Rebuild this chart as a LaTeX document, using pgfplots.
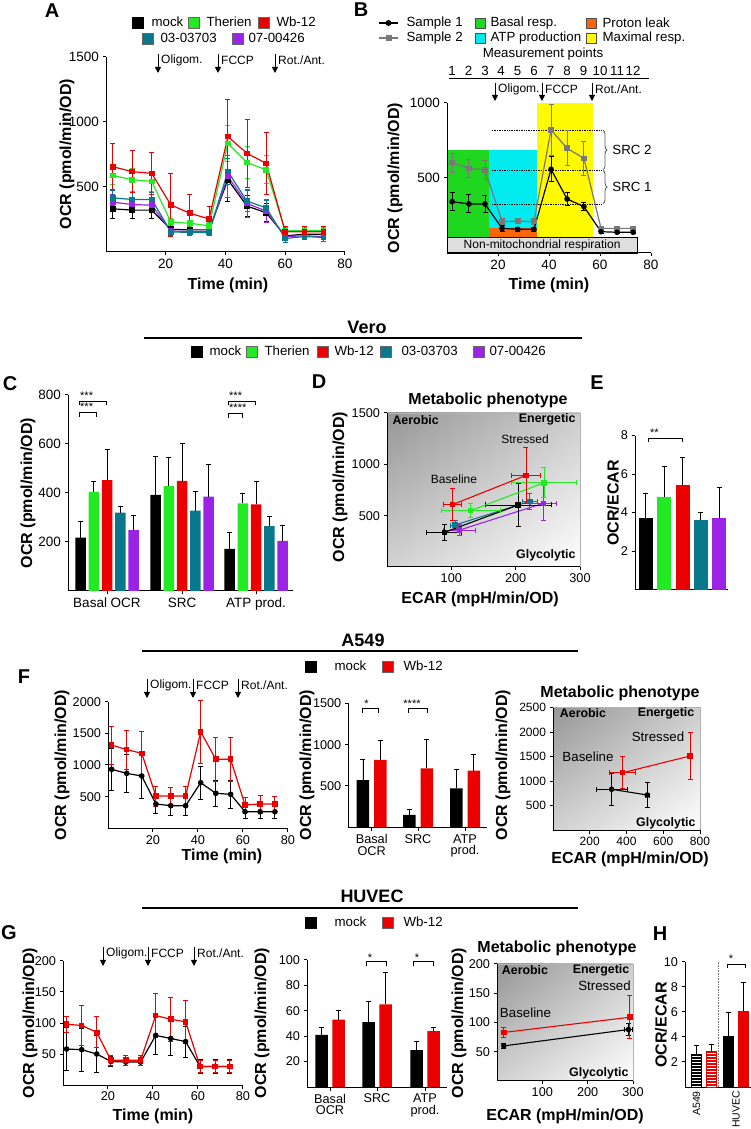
\documentclass[border=0pt]{standalone}
\usepackage{fontspec}
\setmainfont{Liberation Sans}
\usepackage{pgfplots}
\pgfplotsset{compat=1.18}
\usepackage{pgfplotstable}
\usetikzlibrary{arrows.meta,shadings,decorations.pathreplacing,patterns}

\definecolor{cmock}{RGB}{0,0,0}
\definecolor{cther}{RGB}{35,235,35}
\definecolor{cwb}{RGB}{235,0,0}
\definecolor{cteal}{RGB}{10,120,140}
\definecolor{cpur}{RGB}{155,35,230}
\definecolor{cbasal}{RGB}{30,215,30}
\definecolor{catp}{RGB}{0,235,240}
\definecolor{cleak}{RGB}{250,100,10}
\definecolor{cmax}{RGB}{255,250,0}
\definecolor{cstwo}{RGB}{120,120,120}
\definecolor{cnm}{RGB}{222,222,222}
\definecolor{shUL}{RGB}{150,150,150}
\definecolor{shUR}{RGB}{205,205,205}
\definecolor{shLL}{RGB}{210,210,210}
\definecolor{shLR}{RGB}{255,255,255}

\newcommand{\tla}{\fontsize{13.5}{15}\selectfont}
\newcommand{\tlb}{\fontsize{12.7}{14}\selectfont}
\newcommand{\tlc}{\fontsize{12.7}{11.5}\selectfont}
\newcommand{\tld}{\fontsize{12}{13}\selectfont}
\newcommand{\lab}{\bfseries\fontsize{16}{18}\selectfont}
\newcommand{\leg}{\fontsize{13.3}{15}\selectfont}
\newcommand{\ann}{\fontsize{12}{14}\selectfont}
\newcommand{\pl}{\bfseries\fontsize{20}{22}\selectfont}
\newcommand{\ttl}{\bfseries\fontsize{16}{18}\selectfont}
\newcommand{\hdr}{\bfseries\fontsize{18}{20}\selectfont}
\newcommand{\phb}{\bfseries\fontsize{12.4}{14}\selectfont}
\newcommand{\st}{\fontsize{11}{12}\selectfont}

\pgfplotsset{
 gp/.style={scale only axis, anchor=south west,
   axis x line*=bottom, axis y line*=left,
   axis line style={line width=1pt},
   tick align=outside, major tick length=3.5pt,
   tick style={black, line width=1pt},
   tick label style={font=\tlb},
   /pgf/number format/assume math mode=true,
   /pgf/number format/1000 sep={},
   clip=false},
 tc/.style={line width=1.2pt, mark size=2.2pt, mark options={solid},
   error bars/y dir=both, error bars/y explicit,
   error bars/error bar style={line width=0.9pt},
   error bars/error mark options={rotate=90, mark size=2.5pt, line width=0.9pt}},
 ph/.style={line width=1.1pt, mark=square*, mark size=2.2pt, mark options={solid},
   error bars/x dir=both, error bars/x explicit,
   error bars/y dir=both, error bars/y explicit,
   error bars/error bar style={line width=0.8pt},
   error bars/error mark options={rotate=90, mark size=2.5pt, line width=0.8pt}},
 be/.style={error bars/y dir=plus, error bars/y explicit,
   error bars/error bar style={black, line width=0.9pt},
   error bars/error mark options={rotate=90, black, mark size=2.5pt, line width=0.9pt}},
}

\pgfplotstableread{
t mock emock ther ether wb ewb teal eteal pur epur
2.3 332 72 589 68 656 176 416 60 383 60
8.8 322 65 556 90 618 162 404 55 365 55
15.3 322 65 543 75 605 163 404 55 360 55
21.7 175 25 231 25 362 240 155 25 162 25
28.1 170 25 221 25 298 146 150 25 157 25
34.5 170 25 201 25 254 100 150 25 157 25
40.8 556 165 835 140 887 290 619 100 581 160
47.2 353 80 688 120 759 263 391 80 373 110
53.6 302 70 632 107 682 239 340 60 315 90
60.0 124 30 162 25 156 40 104 30 119 25
66.4 137 25 165 25 156 40 119 25 124 25
72.8 137 25 165 25 156 40 112 30 119 25
}\tabA

\pgfplotstableread{
t s1 e1 s2 e2
2.0 342 60 602 62
8.6 327 60 564 60
14.9 327 55 553 62
21.6 164 20 209 20
27.8 158 15 213 18
34.1 158 15 209 18
40.8 558 84 820 167
47.1 360 42 698 117
53.7 309 25 631 111
60.4 142 12 164 15
66.7 138 10 164 15
73.0 138 10 164 15
}\tabB

\pgfplotstableread{
t mock em wb ew
1.6 932 330 1315 300
8.3 868 300 1243 310
15.0 826 350 1184 340
21.3 384 150 510 158
27.9 357 150 510 137
34.5 357 150 510 147
41.2 720 260 1525 500
47.9 553 210 1090 347
54.5 537 225 1090 347
60.9 262 100 368 120
67.6 262 100 384 142
74.2 262 100 384 126
}\tabF

\pgfplotstableread{
t mock em wb ew
1.6 58 35 98 13
8.3 57 35 96 33
15.0 50 30 85 25
21.3 38 8 40 8
27.9 37 6 40 8
34.5 37 6 40 8
41.2 80 30 112 36
47.9 75 28 106 35
54.5 70 25 102 35
60.9 30 12 30 10
67.6 30 12 30 10
74.2 30 12 30 10
}\tabG

\newcommand{\inj}[4]{% x, ytop, ybot, text
  \draw[line width=0.9pt, -{Triangle[width=6pt,length=6pt]}] (#1,#2) -- (#1,#3);
  \node[font=\ann, anchor=west, inner sep=1pt] at (#1+2,#2-6) {#4};}

\begin{document}
\begin{tikzpicture}[x=1pt,y=1pt]
\useasboundingbox (0,0) rectangle (750,1129);
\fill[white] (0,0) rectangle (750,1129);

% ================= A =================
\begin{axis}[gp, at={(106pt,877pt)}, width=239pt, height=195pt,
  xmin=0, xmax=80, ymin=0, ymax=1500, xtick={20,40,60,80}, ytick={500,1000,1500},
  tick label style={font=\tla}]
\addplot[tc, cmock, mark=square*] table[x=t,y=mock,y error=emock]{\tabA};
\addplot[tc, cpur, mark=square*] table[x=t,y=pur,y error=epur]{\tabA};
\addplot[tc, cteal, mark=square*] table[x=t,y=teal,y error=eteal]{\tabA};
\addplot[tc, cther, mark=square*] table[x=t,y=ther,y error=ether]{\tabA};
\addplot[tc, cwb, mark=square*] table[x=t,y=wb,y error=ewb]{\tabA};
\end{axis}
\node[font=\pl] at (52,1118) {A};
\node[font=\lab, rotate=90] at (67,975) {OCR (pmol/min/OD)};
\node[font=\lab] at (228,844) {Time (min)};
\filldraw[fill=cmock, draw=black] (132,1101) rectangle (143,1112); \node[font=\leg, anchor=west] at (148,1107) {mock};
\filldraw[fill=cther, draw=black!60] (188,1101) rectangle (199,1112); \node[font=\leg, anchor=west] at (203,1107) {Therien};
\filldraw[fill=cwb, draw=black!60] (258,1101) rectangle (269,1112); \node[font=\leg, anchor=west] at (273,1107) {Wb-12};
\filldraw[fill=cteal, draw=black!60] (142,1085) rectangle (153,1096); \node[font=\leg, anchor=west] at (157,1091) {03-03703};
\filldraw[fill=cpur, draw=black!60] (232,1085) rectangle (243,1096); \node[font=\leg, anchor=west] at (245,1091) {07-00426};
\inj{158}{1075}{1056}{Oligom.}
\inj{218}{1075}{1056}{FCCP}
\inj{275}{1075}{1056}{Rot./Ant.}

% ================= B =================
\begin{axis}[gp, axis on top, at={(447pt,876pt)}, width=204pt, height=150pt,
  xmin=0, xmax=80, ymin=0, ymax=1000, xtick={20,40,60,80}, ytick={500,1000},
  tick label style={font=\tla}]
\fill[cbasal] (axis cs:0,107) rectangle (axis cs:16.5,687);
\fill[catp] (axis cs:16.5,165) rectangle (axis cs:35.3,687);
\fill[cleak] (axis cs:16.5,107) rectangle (axis cs:35.3,165);
\fill[cmax] (axis cs:35.3,107) rectangle (axis cs:57.3,1000);
\filldraw[fill=cnm, draw=black, line width=0.6pt] (axis cs:0,0) rectangle (axis cs:74.5,107);
\node[font=\ann] at (axis cs:37.3,52) {Non-mitochondrial respiration};
\draw[densely dotted, line width=0.7pt] (axis cs:17.6,820) -- (axis cs:60.8,820);
\draw[densely dotted, line width=0.7pt] (axis cs:17.6,553) -- (axis cs:60.8,553);
\draw[densely dotted, line width=0.7pt] (axis cs:17.6,327) -- (axis cs:60.8,327);
\draw[decorate, decoration={brace, amplitude=4pt}, gray!70!black, line width=0.8pt] (axis cs:61.2,818) -- (axis cs:61.2,556);
\draw[decorate, decoration={brace, amplitude=4pt}, gray!70!black, line width=0.8pt] (axis cs:61.2,550) -- (axis cs:61.2,330);
\node[font=\leg, anchor=west] at (axis cs:63.5,685) {SRC 2};
\node[font=\leg, anchor=west] at (axis cs:63.5,440) {SRC 1};
\addplot[tc, cstwo, mark=square*] table[x=t,y=s2,y error=e2]{\tabB};
\addplot[tc, black, mark=*] table[x=t,y=s1,y error=e1]{\tabB};
\end{axis}
\node[font=\pl] at (361,1119) {B};
\node[font=\lab, rotate=90] at (395,951) {OCR (pmol/min/OD)};
\node[font=\lab] at (549,844) {Time (min)};
\draw[line width=1.1pt] (379,1106) -- (398,1106); \fill (388.5,1106) circle (3pt);
\node[font=\leg, anchor=west] at (403,1106) {Sample 1};
\draw[line width=1.1pt, cstwo] (379,1091) -- (398,1091); \fill[cstwo] (385.5,1088) rectangle (391.5,1094);
\node[font=\leg, anchor=west] at (403,1091) {Sample 2};
\filldraw[fill=cbasal, draw=black!70] (475,1101) rectangle (485,1111); \node[font=\leg, anchor=west] at (487,1106) {Basal resp.};
\filldraw[fill=catp, draw=black!70] (475,1086) rectangle (485,1096); \node[font=\leg, anchor=west] at (487,1091) {ATP production};
\filldraw[fill=cleak, draw=black!70] (586,1101) rectangle (596,1111); \node[font=\leg, anchor=west] at (599,1106) {Proton leak};
\filldraw[fill=cmax, draw=black!70] (586,1086) rectangle (596,1096); \node[font=\leg, anchor=west] at (599,1091) {Maximal resp.};
\node[font=\leg] at (543,1075) {Measurement points};
\foreach \xx/\nn in {452/1,468.5/2,485/3,501/4,517.5/5,534/6,550.5/7,567/8,583.5/9,600/10,617/11,633/12}{
  \node[font=\leg, inner sep=0pt] at (\xx,1058) {\nn};
}
\draw[line width=1pt] (449,1050) -- (649,1050);
\inj{495}{1046}{1028}{Oligom.}
\inj{542}{1046}{1028}{FCCP}
\inj{592}{1046}{1028}{Rot./Ant.}

% ================= Vero header =================
\node[font=\hdr] at (367,802) {Vero};
\draw[line width=1.4pt] (144,791) -- (582,791);
\filldraw[fill=cmock, draw=black] (191,772) rectangle (202,783); \node[font=\leg, anchor=west] at (206,778) {mock};
\filldraw[fill=cther, draw=black!60] (246,772) rectangle (257,783); \node[font=\leg, anchor=west] at (261,778) {Therien};
\filldraw[fill=cwb, draw=black!60] (317,772) rectangle (328,783); \node[font=\leg, anchor=west] at (331,778) {Wb-12};
\filldraw[fill=cteal, draw=black!60] (380,772) rectangle (391,783); \node[font=\leg, anchor=west] at (398,778) {03-03703};
\filldraw[fill=cpur, draw=black!60] (473,772) rectangle (484,783); \node[font=\leg, anchor=west] at (486,778) {07-00426};

% ================= C =================
\begin{axis}[gp, at={(68pt,538pt)}, width=225pt, height=196pt,
  xmin=0, xmax=225, ymin=0, ymax=800, ytick={200,400,600,800},
  xtick={39,114,188}, xticklabels={Basal OCR, SRC, ATP prod.},
  tick label style={font=\tla}]
\addplot[ybar, bar width=10.5pt, bar shift=0pt, fill=cmock, draw=none, be] coordinates {(12.5,218) +- (0,65) (87.5,392) +- (0,156) (161.5,172) +- (0,68)};
\addplot[ybar, bar width=10.5pt, bar shift=0pt, fill=cther, draw=none, be] coordinates {(25.75,405) +- (0,44) (100.75,428) +- (0,118) (174.75,358) +- (0,41)};
\addplot[ybar, bar width=10.5pt, bar shift=0pt, fill=cwb, draw=none, be] coordinates {(39,453) +- (0,125) (114,449) +- (0,154) (188,354) +- (0,92)};
\addplot[ybar, bar width=10.5pt, bar shift=0pt, fill=cteal, draw=none, be] coordinates {(52.25,320) +- (0,24) (127.25,328) +- (0,80) (201.25,265) +- (0,41)};
\addplot[ybar, bar width=10.5pt, bar shift=0pt, fill=cpur, draw=none, be] coordinates {(65.5,248) +- (0,62) (140.5,385) +- (0,133) (214.5,205) +- (0,64)};
\end{axis}
\node[font=\pl] at (10,745) {C};
\node[font=\lab, rotate=90] at (28,636) {OCR (pmol/min/OD)};
\draw[line width=0.7pt] (79,724) -- (79,728) -- (106,728) -- (106,724);
\node[font=\st, anchor=west, inner sep=0pt] at (80,733) {***};
\draw[line width=0.7pt] (79,712) -- (79,717) -- (96,717) -- (96,712);
\node[font=\st, anchor=west, inner sep=0pt] at (80,722) {***};
\draw[line width=0.7pt] (228,724) -- (228,728) -- (255,728) -- (255,724);
\node[font=\st, anchor=west, inner sep=0pt] at (229,733) {***};
\draw[line width=0.7pt] (228,711) -- (228,716) -- (242,716) -- (242,711);
\node[font=\st, anchor=west, inner sep=0pt] at (229,721) {****};

% ================= D =================
\begin{axis}[gp, axis on top, at={(387pt,562pt)}, width=193pt, height=154pt,
  xmin=0, xmax=300, ymin=0, ymax=1500, xtick={100,200,300}, ytick={500,1000,1500}]
\shade[upper left=shUL, upper right=shUR, lower left=shLL, lower right=shLR] (axis cs:0,0) rectangle (axis cs:300,1500);
\draw[gray!60, line width=0.6pt] (axis cs:0,1500) -- (axis cs:300,1500) -- (axis cs:300,0);
\addplot[ph, cteal] table[x=x,y=y,x error=ex,y error=ey]{
x y ex ey
106 409 7 40
222 640 12 80
};
\addplot[ph, cpur] table[x=x,y=y,x error=ex,y error=ey]{
x y ex ey
113 360 25 50
243 620 20 170
};
\addplot[ph, cmock] table[x=x,y=y,x error=ex,y error=ey]{
x y ex ey
89 337 27 81
204 604 51 209
};
\addplot[ph, cther] table[x=x,y=y,x error=ex,y error=ey]{
x y ex ey
130 549 46 66
244 820 51 147
};
\addplot[ph, cwb] table[x=x,y=y,x error=ex,y error=ey]{
x y ex ey
102 608 14 154
216 892 23 272
};
\end{axis}
\node[font=\pl] at (319,747) {D};
\node[font=\ttl] at (488,729) {Metabolic phenotype};
\node[font=\lab, rotate=90] at (340,642) {OCR (pmol/min/OD)};
\node[font=\lab] at (480,530) {ECAR (mpH/min/OD)};
\node[font=\phb, anchor=west] at (389,709) {Aerobic};
\node[font=\phb, anchor=east] at (579,710) {Energetic};
\node[font=\phb, anchor=east] at (579,574) {Glycolytic};
\node[font=\ann] at (525,690) {Stressed};
\node[font=\ann] at (454,650) {Baseline};

% ================= E =================
\begin{axis}[gp, at={(635pt,539.4pt)}, width=93pt, height=154pt,
  xmin=0, xmax=93, ymin=0, ymax=8, ytick={2,4,6,8}, xtick=\empty]
\addplot[ybar, bar width=14pt, bar shift=0pt, fill=cmock, draw=none, be] coordinates {(10.5,3.70) +- (0,1.30)};
\addplot[ybar, bar width=14pt, bar shift=0pt, fill=cther, draw=none, be] coordinates {(29,4.83) +- (0,1.59)};
\addplot[ybar, bar width=14pt, bar shift=0pt, fill=cwb, draw=none, be] coordinates {(47.5,5.43) +- (0,1.44)};
\addplot[ybar, bar width=14pt, bar shift=0pt, fill=cteal, draw=none, be] coordinates {(65.5,3.62) +- (0,0.38)};
\addplot[ybar, bar width=14pt, bar shift=0pt, fill=cpur, draw=none, be] coordinates {(84,3.70) +- (0,1.61)};
\end{axis}
\node[font=\pl] at (597,746) {E};
\node[font=\lab, rotate=90] at (613,626) {OCR/ECAR};
\draw[line width=0.7pt] (648,687) -- (648,691) -- (682,691) -- (682,687);
\node[font=\st, anchor=west, inner sep=0pt] at (650,696) {**};

% ================= A549 header =================
\node[font=\hdr] at (363,489) {A549};
\draw[line width=1.4pt] (142,478) -- (578,478);
\filldraw[fill=cmock, draw=black] (305,457) rectangle (316,468); \node[font=\leg, anchor=west] at (331,463) {mock};
\filldraw[fill=cwb, draw=black!60] (382,457) rectangle (393,468); \node[font=\leg, anchor=west] at (400,463) {Wb-12};

% ================= F left =================
\begin{axis}[gp, at={(108pt,300.7pt)}, width=180pt, height=126.6pt,
  xmin=0, xmax=80, ymin=0, ymax=2000, xtick={20,40,60,80}, ytick={500,1000,1500,2000}]
\addplot[tc, black, mark=*] table[x=t,y=mock,y error=em]{\tabF};
\addplot[tc, cwb, mark=square*] table[x=t,y=wb,y error=ew]{\tabF};
\end{axis}
\node[font=\pl] at (24,452) {F};
\node[font=\lab, rotate=90] at (62,364) {OCR (pmol/min/OD)};
\node[font=\lab] at (222,273) {Time (min)};
\inj{147}{450}{431}{Oligom.}
\inj{193}{450}{431}{FCCP}
\inj{238}{450}{431}{Rot./Ant.}

% ================= F mid =================
\begin{axis}[gp, at={(348.3pt,301.7pt)}, width=139pt, height=124pt,
  xmin=0, xmax=139, ymin=0, ymax=1500, ytick={500,1000,1500},
  xtick={23.4,69.7,116.7}, xticklabels={Basal\\OCR, SRC, ATP\\prod.},
  xticklabel style={align=center, font=\tlc}]
\addplot[ybar, bar width=12.5pt, bar shift=0pt, fill=cmock, draw=none, be] coordinates {(14.65,572) +- (0,243) (60.95,149) +- (0,69) (107.95,472) +- (0,230)};
\addplot[ybar, bar width=12.5pt, bar shift=0pt, fill=cwb, draw=none, be] coordinates {(32.15,815) +- (0,233) (78.45,714) +- (0,343) (125.45,685) +- (0,202)};
\end{axis}
\node[font=\lab, rotate=90] at (307,364) {OCR (pmol/min/OD)};
\draw[line width=0.7pt] (362.7,416) -- (362.7,420.7) -- (378.3,420.7) -- (378.3,416);
\node[font=\st, inner sep=0pt] at (366.5,425) {*};
\draw[line width=0.7pt] (408.3,416) -- (408.3,420.7) -- (427.3,420.7) -- (427.3,416);
\node[font=\st, inner sep=0pt] at (412,425) {****};

% ================= F pheno =================
\begin{axis}[gp, axis on top, at={(553pt,298.8pt)}, width=147pt, height=122.5pt,
  xmin=0, xmax=800, ymin=0, ymax=2500, xtick={200,400,600,800}, ytick={500,1000,1500,2000,2500},
  tick label style={font=\tld}]
\shade[upper left=shUL, upper right=shUR, lower left=shLL, lower right=shLR] (axis cs:0,0) rectangle (axis cs:800,2500);
\draw[gray!60, line width=0.6pt] (axis cs:0,2500) -- (axis cs:800,2500) -- (axis cs:800,0);
\addplot[ph, cmock, mark=*] table[x=x,y=y,x error=ex,y error=ey]{
x y ex ey
319 835 85 330
513 718 10 250
};
\addplot[ph, cwb] table[x=x,y=y,x error=ex,y error=ey]{
x y ex ey
379 1173 72 330
746 1514 8 480
};
\end{axis}
\node[font=\ttl] at (620,436) {Metabolic phenotype};
\node[font=\lab, rotate=90] at (503,364) {OCR (pmol/min/OD)};
\node[font=\lab] at (630,270) {ECAR (mpH/min/OD)};
\node[font=\phb] at (583,416) {Aerobic};
\node[font=\phb] at (666,416) {Energetic};
\node[font=\phb, anchor=east] at (699,306) {Glycolytic};
\node[font=\leg] at (658,392) {Stressed};
\node[font=\leg] at (588,372) {Baseline};

% ================= HUVEC header =================
\node[font=\hdr] at (372,233) {HUVEC};
\draw[line width=1.4pt] (142,221) -- (578,221);
\filldraw[fill=cmock, draw=black] (305,201) rectangle (316,212); \node[font=\leg, anchor=west] at (331,207) {mock};
\filldraw[fill=cwb, draw=black!60] (382,201) rectangle (393,212); \node[font=\leg, anchor=west] at (400,207) {Wb-12};

% ================= G left =================
\begin{axis}[gp, at={(63pt,44pt)}, width=180pt, height=124pt,
  xmin=0, xmax=80, ymin=0, ymax=200, xtick={20,40,60,80}, ytick={50,100,150,200}]
\addplot[tc, black, mark=*] table[x=t,y=mock,y error=em]{\tabG};
\addplot[tc, cwb, mark=square*] table[x=t,y=wb,y error=ew]{\tabG};
\end{axis}
\node[font=\pl] at (9,196) {G};
\node[font=\lab, rotate=90] at (30,106) {OCR (pmol/min/OD)};
\node[font=\lab] at (153,13) {Time (min)};
\inj{103}{182}{163}{Oligom.}
\inj{148}{182}{163}{FCCP}
\inj{194}{182}{163}{Rot./Ant.}

% ================= G mid =================
\begin{axis}[gp, at={(307pt,42pt)}, width=140pt, height=127pt,
  xmin=0, xmax=140, ymin=0, ymax=100, ytick={20,40,60,80,100},
  xtick={23,70,118}, xticklabels={Basal\\OCR, SRC, ATP\\prod.},
  xticklabel style={align=center, font=\tlc}]
\addplot[ybar, bar width=12.5pt, bar shift=0pt, fill=cmock, draw=none, be] coordinates {(14.5,41) +- (0,6) (61.5,51) +- (0,16) (109.5,29) +- (0,7)};
\addplot[ybar, bar width=12.5pt, bar shift=0pt, fill=cwb, draw=none, be] coordinates {(31.5,53) +- (0,7.5) (78.5,65) +- (0,25) (126.5,44) +- (0,3)};
\end{axis}
\node[font=\lab, rotate=90] at (262,106) {OCR (pmol/min/OD)};
\draw[line width=0.7pt] (366,163) -- (366,167.3) -- (386,167.3) -- (386,163);
\node[font=\st, inner sep=0pt] at (370,171) {*};
\draw[line width=0.7pt] (413,163) -- (413,167.3) -- (433,167.3) -- (433,163);
\node[font=\st, inner sep=0pt] at (417,171) {*};

% ================= G pheno =================
\begin{axis}[gp, axis on top, at={(497pt,48pt)}, width=136pt, height=117pt,
  xmin=0, xmax=300, ymin=0, ymax=200, xtick={100,200,300}, ytick={50,100,150,200}]
\shade[upper left=shUL, upper right=shUR, lower left=shLL, lower right=shLR] (axis cs:0,0) rectangle (axis cs:300,200);
\draw[gray!60, line width=0.6pt] (axis cs:0,200) -- (axis cs:300,200) -- (axis cs:300,0);
\addplot[ph, cmock, mark=*] table[x=x,y=y,x error=ex,y error=ey]{
x y ex ey
15 60 3 4
290 88 8 10
};
\addplot[ph, cwb] table[x=x,y=y,x error=ex,y error=ey]{
x y ex ey
15 83 3 8
293 109 5 37
};
\end{axis}
\node[font=\ttl] at (557,181) {Metabolic phenotype};
\node[font=\lab, rotate=90] at (459,106) {OCR (pmol/min/OD)};
\node[font=\lab] at (565,13) {ECAR (mpH/min/OD)};
\node[font=\phb] at (525,159) {Aerobic};
\node[font=\phb] at (601,159) {Energetic};
\node[font=\leg] at (604.5,143) {Stressed};
\node[font=\leg] at (525.5,116) {Baseline};
\node[font=\phb, anchor=east] at (632,56) {Glycolytic};

% ================= H =================
\begin{axis}[gp, at={(685pt,42pt)}, width=67pt, height=125pt,
  xmin=0, xmax=67, ymin=0, ymax=10, ytick={2,4,6,8,10}, xtick=\empty]
\addplot[ybar, bar width=10.5pt, bar shift=0pt, fill=black, draw=black, postaction={pattern=horizontal lines, pattern color=white}, be] coordinates {(11,2.6) +- (0,0.7)};
\addplot[ybar, bar width=10.5pt, bar shift=0pt, fill=cwb, draw=cwb, postaction={pattern=horizontal lines, pattern color=white}, be] coordinates {(26,2.9) +- (0,0.5)};
\addplot[ybar, bar width=10.5pt, bar shift=0pt, fill=cmock, draw=none, be] coordinates {(43.5,4.1) +- (0,1.9)};
\addplot[ybar, bar width=10.5pt, bar shift=0pt, fill=cwb, draw=none, be] coordinates {(58.5,6.1) +- (0,2.3)};
\draw[densely dotted, gray, line width=0.6pt] (axis cs:33,0) -- (axis cs:33,10);
\end{axis}
\node[font=\pl] at (660,195) {H};
\node[font=\lab, rotate=90] at (661,104) {OCR/ECAR};
\draw[line width=0.7pt] (727,161) -- (727,165) -- (745,165) -- (745,161);
\node[font=\st, inner sep=0pt] at (731,170) {*};
\node[font=\fontsize{10.5}{12}\selectfont, rotate=90, anchor=east, inner sep=1pt] at (696.5,39) {A549};
\node[font=\fontsize{10.5}{12}\selectfont, rotate=90, anchor=east, inner sep=1pt] at (736,39) {HUVEC};

\end{tikzpicture}
\end{document}
